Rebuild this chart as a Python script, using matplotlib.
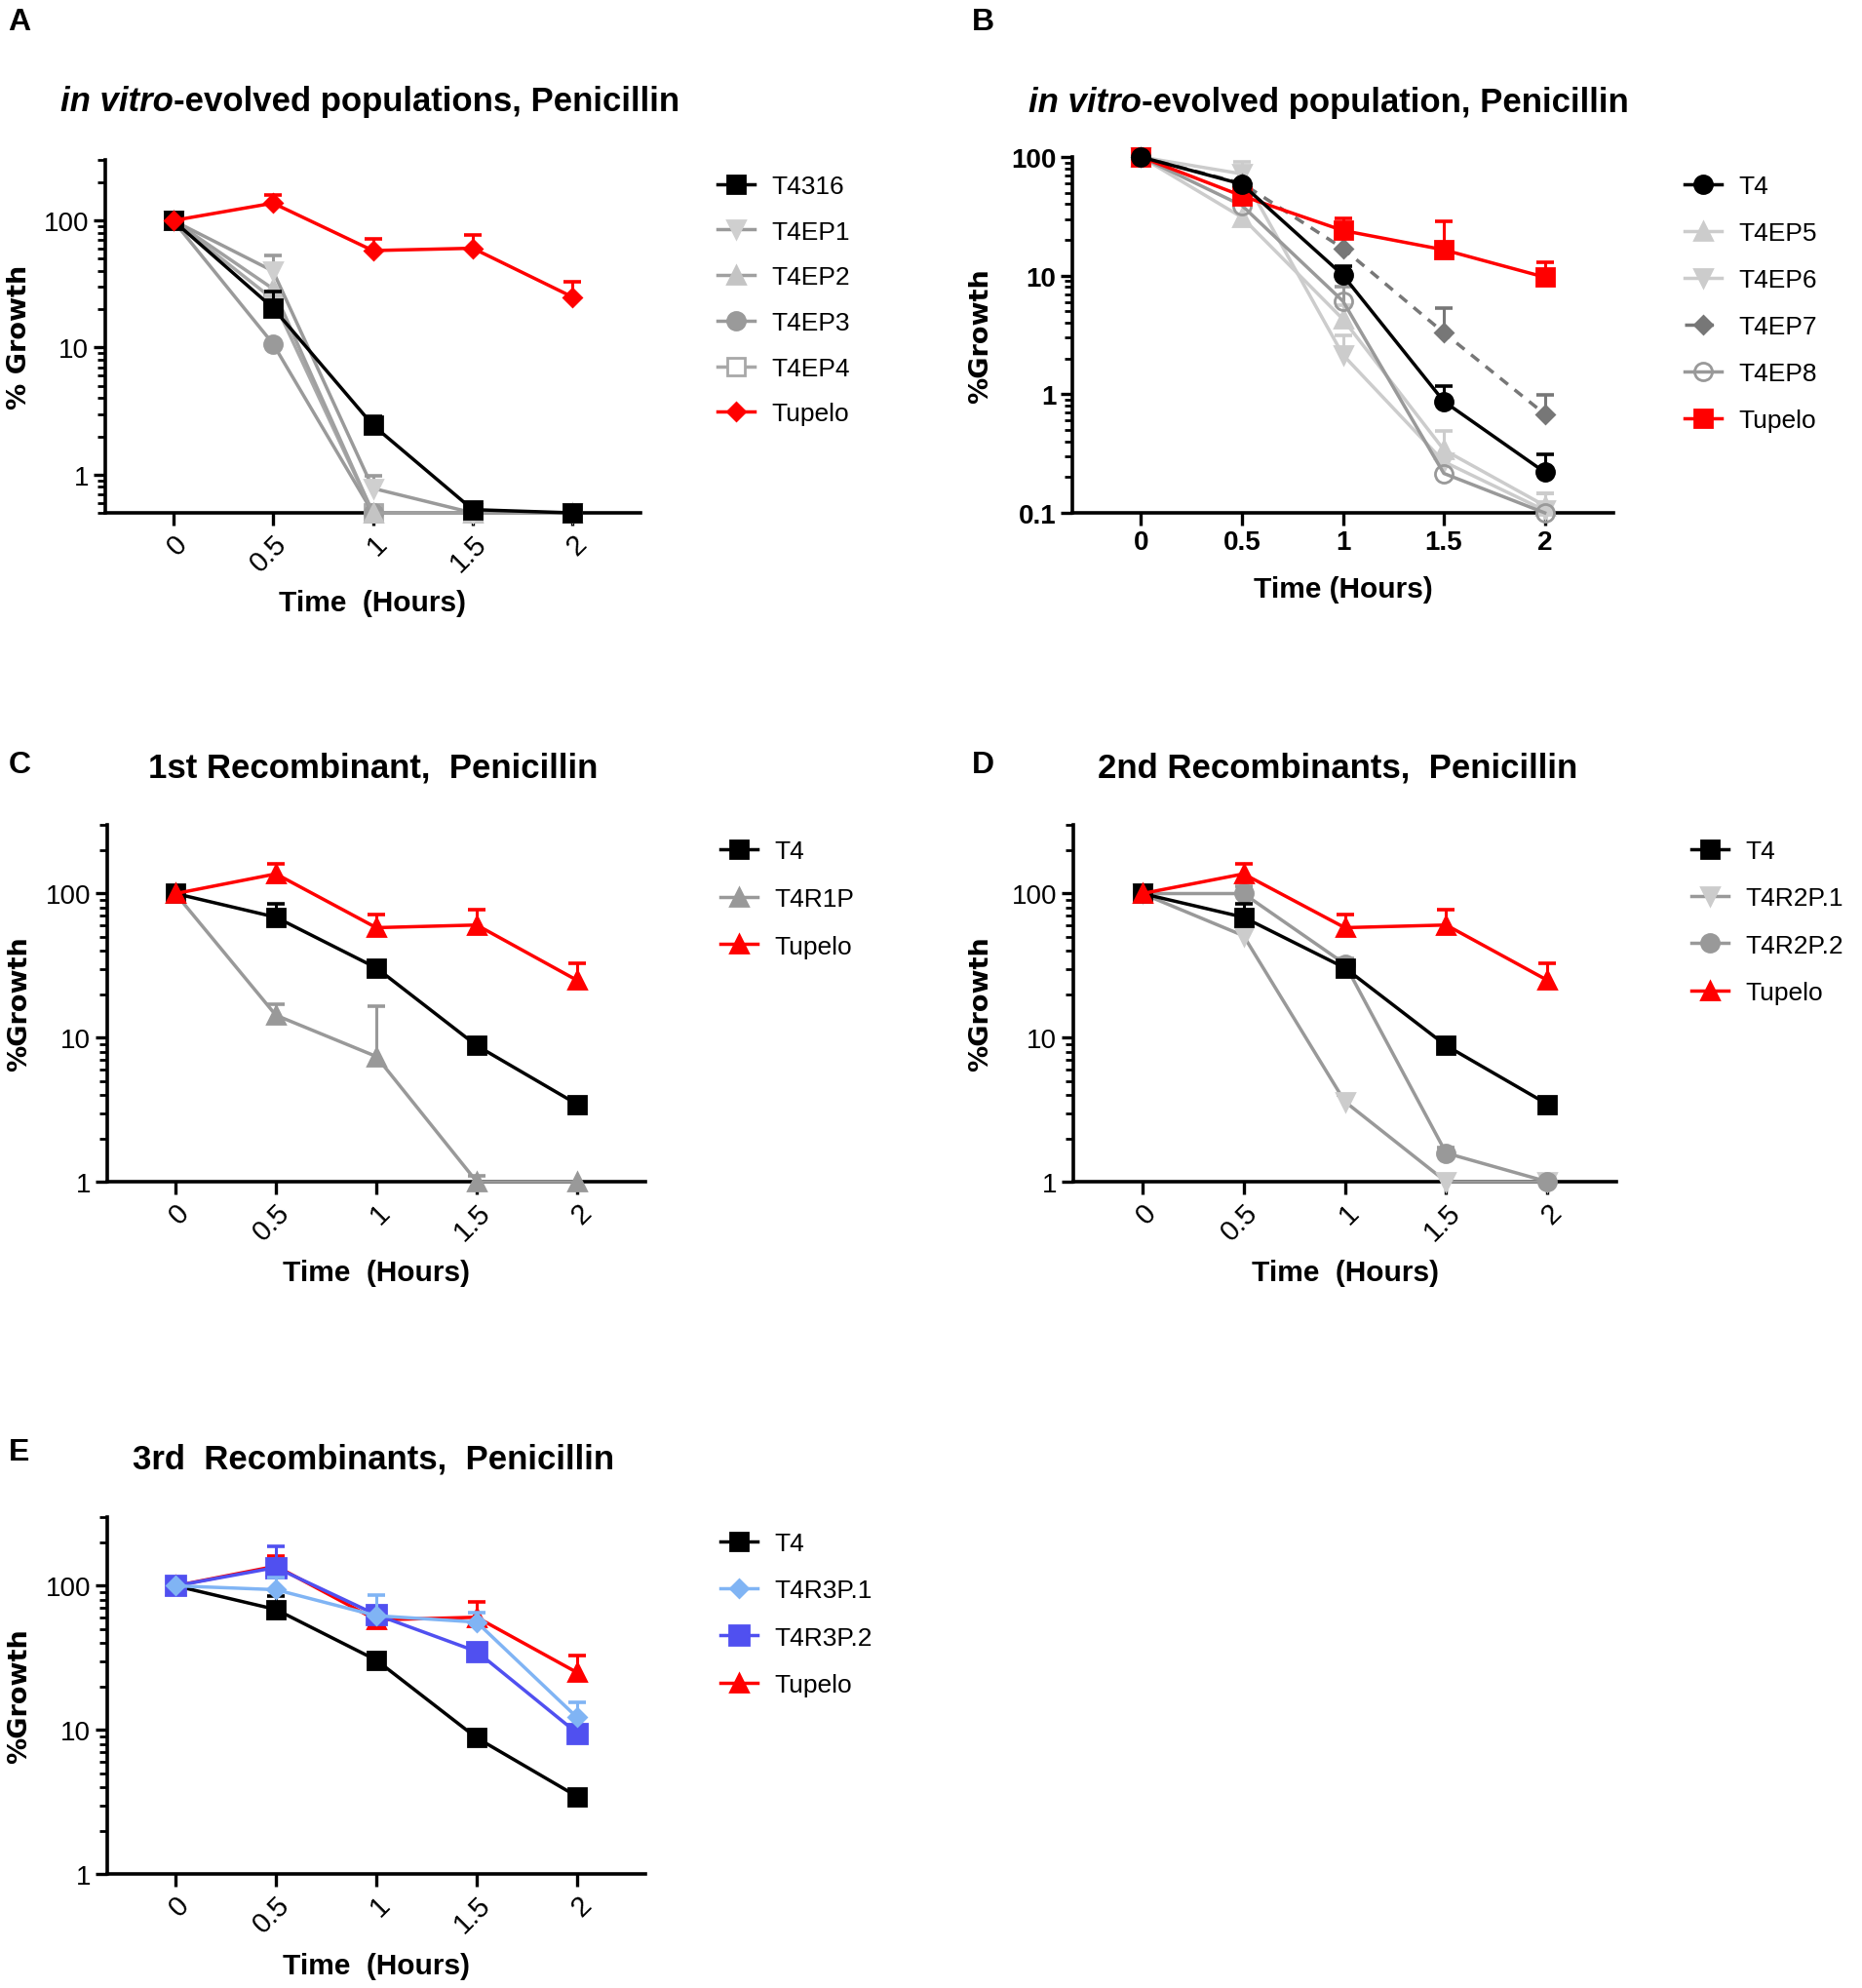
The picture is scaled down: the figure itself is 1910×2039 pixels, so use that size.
import numpy as np
import matplotlib
matplotlib.use("Agg")
import matplotlib.pyplot as plt
from matplotlib.ticker import LogLocator, FuncFormatter, NullFormatter

plt.rcParams['font.family'] = ['Liberation Sans', 'DejaVu Sans']

# time points (hours)
time = [0, 0.5, 1, 1.5, 2]

# Panel A: in vitro-evolved populations
a_t4316 = [100, 20.5, 2.45, 0.53, 0.5]
a_t4316_sd = [0, 7, 0.45, 0, 0]
a_ep1 = [100, 40, 0.78, 0.5, 0.5]
a_ep1_sd = [0, 13, 0.2, 0, 0]
a_ep2 = [100, 29, 0.5, 0.5, 0.5]
a_ep3 = [100, 10.7, 0.5, 0.5, 0.5]
a_ep4 = [100, 24, 0.5, 0.5, 0.5]
tupelo = [100, 137, 58, 60.5, 25]
tupelo_sd = [0, 23, 14, 16.5, 8]

# Panel B: in vitro-evolved population
b_t4 = [100, 59, 10.1, 0.87, 0.22]
b_t4_sd = [0, 0, 2, 0.3, 0.09]
b_ep5 = [100, 31, 4.3, 0.34, 0.115]
b_ep5_sd = [0, 0, 1.3, 0.15, 0.03]
b_ep6 = [100, 72, 2.15, 0.27, 0.105]
b_ep6_sd = [0, 19, 1.0, 0, 0.04]
b_ep7 = [100, 60, 17, 3.3, 0.68]
b_ep7_sd = [0, 0, 0, 2, 0.3]
b_ep8 = [100, 39, 6.1, 0.215, 0.1]
b_ep8_sd = [0, 0, 2, 0, 0]
b_tupelo = [100, 47, 24, 16.5, 9.7]
b_tupelo_sd = [0, 0, 6.5, 12, 3.3]

# Recombinants (C, D, E)
t4 = [100, 68.5, 30.5, 8.8, 3.45]
t4_sd = [0, 16, 0, 0, 0]
t4r1p = [100, 14.3, 7.4, 1.0, 1.0]
t4r1p_sd = [0, 2.7, 9.1, 0.1, 0]
t4r2p1 = [100, 51, 3.6, 1.0, 1.0]
t4r2p1_sd = [0, 0, 0.4, 0, 0]
t4r2p2 = [100, 100, 32.5, 1.58, 1.0]
t4r2p2_sd = [0, 12, 3, 0.15, 0]
t4r3p1 = [100, 94, 62, 56, 12.2]
t4r3p1_sd = [0, 20, 24, 9, 3.3]
t4r3p2 = [100, 134, 63, 35, 9.5]
t4r3p2_sd = [0, 53, 0, 0, 0]

RED = '#ff0000'
W, H = 1910, 2040

fig = plt.figure(figsize=(W / 100, H / 100), dpi=100)


def make_ax(left, right, top, bottom):
    return fig.add_axes([left / W, 1 - bottom / H, (right - left) / W, (bottom - top) / H])


def series(ax, y, sd, label, color, marker, mfc=None, mec=None, ms=13, ls='-', z=3, ecolor=None):
    y = np.array(y, float)
    sd = np.array(sd, float)
    ax.plot(time, y, color=color, marker=marker, ms=ms, mfc=mfc or color,
            mec=mec or mfc or color, mew=2, lw=2.5, ls=ls, label=label,
            clip_on=False, zorder=z)
    # upper error bars only
    has = sd > 0
    x = np.array(time)[has]
    top = (y + sd)[has]
    ec = ecolor or color
    ax.vlines(x, y[has], top, color=ec, lw=2.2, zorder=z - 0.5)
    ax.plot(x, top, ls='none', marker='_', ms=13, mew=2.6, color=ec, zorder=z - 0.5)


def style(ax, ylim, ylabel, ylx, xlabel, xly, rotate=True):
    ax.set_yscale('log')
    ax.set_ylim(*ylim)
    ax.set_xlim(-0.34, 2.34)
    for s in ['top', 'right']:
        ax.spines[s].set_visible(False)
    for s in ['left', 'bottom']:
        ax.spines[s].set_linewidth(2.6)
    ax.yaxis.set_major_locator(LogLocator(base=10))
    ax.yaxis.set_minor_locator(LogLocator(base=10, subs=np.arange(2, 10)))
    ax.yaxis.set_major_formatter(FuncFormatter(lambda v, p: '%g' % v))
    ax.yaxis.set_minor_formatter(NullFormatter())
    ax.set_xticks(time)
    ax.set_xticklabels(['0', '0.5', '1', '1.5', '2'])
    ax.tick_params(which='major', length=9, width=2.4, pad=3)
    ax.tick_params(which='minor', length=5.5, width=2)
    ax.tick_params(axis='x', which='minor', bottom=False)
    if rotate:
        ax.tick_params(axis='y', labelsize=20)
        ax.tick_params(axis='x', labelsize=21)
        for t in ax.get_xticklabels():
            t.set_rotation(45)
            t.set_ha('right')
            t.set_va('top')
            t.set_rotation_mode('anchor')
    else:
        ax.tick_params(labelsize=20)
        for t in ax.get_xticklabels() + ax.get_yticklabels():
            t.set_fontweight('bold')
    ax.set_ylabel(ylabel, family='DejaVu Sans', fontweight='bold', fontsize=19.5, va='center')
    ax.yaxis.set_label_coords(ylx, 0.5)
    ax.set_xlabel(xlabel, fontweight='bold', fontsize=21.5, va='center')
    ax.xaxis.set_label_coords(0.5, xly)


def legend(ax, x, y, spacing):
    ax.legend(loc='upper left', bbox_to_anchor=(x / W, 1 - y / H), bbox_transform=fig.transFigure,
              frameon=False, fontsize=19, borderpad=0, borderaxespad=0, labelspacing=spacing,
              handlelength=1.44, handletextpad=0.65)


# ---- Panel A
axA = make_ax(108, 657, 165, 527)
series(axA, a_t4316, a_t4316_sd, 'T4316', 'black', 's', z=8)
series(axA, a_ep1, a_ep1_sd, 'T4EP1', '#9a9a9a', 'v', mfc='#cfcfcf', z=7)
series(axA, a_ep2, [0] * 5, 'T4EP2', '#a0a0a0', '^', mfc='#c4c4c4', z=6)
series(axA, a_ep3, [0] * 5, 'T4EP3', '#9a9a9a', 'o', mfc='#9a9a9a', z=5)
series(axA, a_ep4, [0] * 5, 'T4EP4', '#a8a8a8', 's', mfc='white', mec='#a8a8a8', z=4)
series(axA, tupelo, tupelo_sd, 'Tupelo', RED, 'D', ms=9, z=9)
style(axA, (0.5, 300), '% Growth', -0.16, 'Time  (Hours)', -0.254)
legend(axA, 736, 180, 0.86)

# ---- Panel B
axB = make_ax(1100, 1655, 162, 527)
series(axB, b_t4, b_t4_sd, 'T4', 'black', 'o', z=9)
series(axB, b_ep5, b_ep5_sd, 'T4EP5', '#cccccc', '^', z=5)
series(axB, b_ep6, b_ep6_sd, 'T4EP6', '#cccccc', 'v', z=4)
series(axB, b_ep7, b_ep7_sd, 'T4EP7', '#777777', 'D', ms=9, ls=(0, (3, 2.5)), z=6)
series(axB, b_ep8, b_ep8_sd, 'T4EP8', '#999999', 'o', mfc='none', mec='#999999', z=7)
series(axB, b_tupelo, b_tupelo_sd, 'Tupelo', RED, 's', z=8)
style(axB, (0.1, 100), '%Growth', -0.169, 'Time (Hours)', -0.214, rotate=False)
legend(axB, 1728, 180, 0.91)

# ---- Panel C
axC = make_ax(110, 662, 847, 1213)
series(axC, t4, t4_sd, 'T4', 'black', 's', z=8)
series(axC, t4r1p, t4r1p_sd, 'T4R1P', '#999999', '^', z=7)
series(axC, tupelo, tupelo_sd, 'Tupelo', RED, '^', z=9)
style(axC, (1, 300), '%Growth', -0.163, 'Time  (Hours)', -0.254)
legend(axC, 739, 862, 0.94)

# ---- Panel D
axD = make_ax(1101, 1658, 847, 1213)
series(axD, t4, t4_sd, 'T4', 'black', 's', z=8)
series(axD, t4r2p1, t4r2p1_sd, 'T4R2P.1', '#999999', 'v', mfc='#cccccc', z=6)
series(axD, t4r2p2, t4r2p2_sd, 'T4R2P.2', '#999999', 'o', z=7)
series(axD, tupelo, tupelo_sd, 'Tupelo', RED, '^', z=9)
style(axD, (1, 300), '%Growth', -0.171, 'Time  (Hours)', -0.254)
legend(axD, 1735, 862, 0.92)

# ---- Panel E
axE = make_ax(110, 662, 1557, 1923)
series(axE, t4, t4_sd, 'T4', 'black', 's', z=6)
series(axE, t4r3p1, t4r3p1_sd, 'T4R3P.1', '#80b4f4', 'D', ms=9, z=9)
series(axE, t4r3p2, t4r3p2_sd, 'T4R3P.2', '#5050f0', 's', ms=15, z=8)
series(axE, tupelo, tupelo_sd, 'Tupelo', RED, '^', z=7)
style(axE, (1, 300), '%Growth', -0.163, 'Time  (Hours)', -0.257)
legend(axE, 739, 1572, 0.92)

# ---- titles
fig.canvas.draw()
ren = fig.canvas.get_renderer()
TFS = 25


def mixed_title(left, y, italic, rest):
    t1 = fig.text(left / W, 1 - y / H, italic, fontsize=TFS, fontweight='bold', style='italic',
                  ha='left', va='baseline')
    bb = t1.get_window_extent(renderer=ren)
    fig.text(bb.x1 / W, 1 - y / H, rest, fontsize=TFS, fontweight='bold', ha='left', va='baseline')


mixed_title(62, 114, 'in vitro', '-evolved populations, Penicillin')
mixed_title(1055, 115, 'in vitro', '-evolved population, Penicillin')
fig.text(383 / W, 1 - 788 / H, '1st Recombinant,  Penicillin', fontsize=TFS, fontweight='bold',
         ha='center', va='center')
fig.text(1372 / W, 1 - 788 / H, '2nd Recombinants,  Penicillin', fontsize=TFS, fontweight='bold',
         ha='center', va='center')
fig.text(383 / W, 1 - 1497 / H, '3rd  Recombinants,  Penicillin', fontsize=TFS, fontweight='bold',
         ha='center', va='center')

# panel letters
for lab, x, y in [('A', 20, 23), ('B', 1008, 23), ('C', 20, 785), ('D', 1008, 785), ('E', 20, 1490)]:
    fig.text(x / W, 1 - y / H, lab, fontsize=23, fontweight='bold', ha='center', va='center')

fig.savefig('out.png', dpi=100)
